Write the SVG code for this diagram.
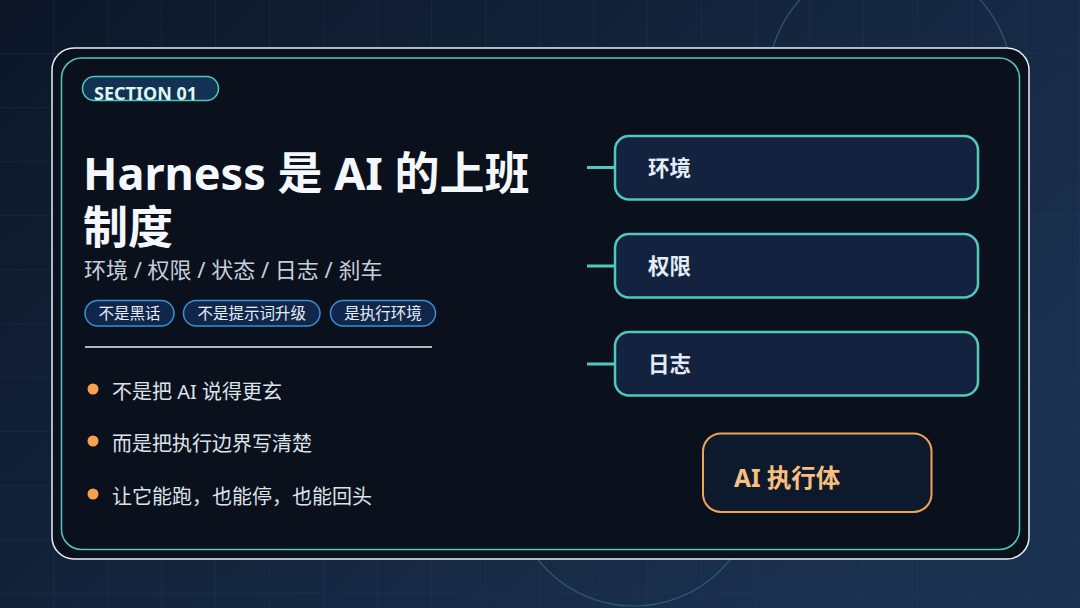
<svg xmlns="http://www.w3.org/2000/svg" width="1080" height="608" viewBox="0 0 1080 608">
<defs>
<linearGradient id="bg" x1="0" y1="0" x2="1" y2="0.6">
<stop offset="0" stop-color="#0c1627"/>
<stop offset="1" stop-color="#1b3150"/>
</linearGradient>
<pattern id="grid" width="54" height="54" patternUnits="userSpaceOnUse">
<path d="M54 0V54M0 54H54" fill="none" stroke="#2a4060" stroke-opacity="0.5" stroke-width="1"/>
</pattern>
<style>
.f{font-family:"Noto Sans","Noto Sans CJK SC",sans-serif}
.node rect{fill:#13233f;stroke:#4fc8bd;stroke-width:2.5}
.node text{fill:#e3ecf7;font-size:21.5px;font-weight:700}
.tag rect{fill:#10264a;stroke:#3d8fd0;stroke-width:1.5}
.tag text{fill:#e6eef8;font-size:15.5px;text-anchor:middle}
.bul circle{fill:#f6a24c}
.bul text{fill:#dde3ea;font-size:20px}
.conn line{stroke:#4fc8bd;stroke-width:3}
</style>
</defs>
<rect width="1080" height="608" fill="url(#bg)"/>
<rect width="1080" height="608" fill="url(#grid)"/>
<circle cx="890" cy="82" r="122" fill="none" stroke="#2c5a70" stroke-width="1.2"/>
<circle cx="634" cy="483" r="123" fill="none" stroke="#2c5a70" stroke-width="1.2"/>
<g id="panel">
<rect x="52" y="48" width="977" height="511" rx="22" fill="#0a111c" stroke="#e8eef6" stroke-width="1.5"/>
<rect x="61.5" y="58" width="958" height="491.5" rx="20" fill="none" stroke="#4fc8bd" stroke-width="1.5"/>
</g>
<g id="section" class="f">
<rect x="82.5" y="76.5" width="136" height="24" rx="12" fill="#133152" stroke="#4fc8bd" stroke-width="1.5"/>
<text x="94" y="100" font-size="18" font-weight="700" fill="#dff7f2">SECTION 01</text>
</g>
<text id="title" class="f" fill="#f4f8fc" font-weight="700" font-size="45"><tspan x="83" y="190">Harness 是 AI 的上班</tspan><tspan x="83" y="244">制度</tspan></text>
<text id="subtitle" class="f" x="84" y="278" font-size="22" fill="#c5cfda">环境 / 权限 / 状态 / 日志 / 刹车</text>
<g id="tags" class="f">
<g class="tag" id="tag1"><rect x="85" y="300.5" width="89" height="25.5" rx="12.75"/><text x="129.5" y="319">不是黑话</text></g>
<g class="tag" id="tag2"><rect x="183.5" y="300.5" width="136.5" height="25.5" rx="12.75"/><text x="251.75" y="319">不是提示词升级</text></g>
<g class="tag" id="tag3"><rect x="330.5" y="300.5" width="105" height="25.5" rx="12.75"/><text x="383" y="319">是执行环境</text></g>
</g>
<line x1="85" y1="347" x2="432" y2="347" stroke="#e8eef6" stroke-width="1.5"/>
<g id="bullets" class="f">
<g class="bul"><circle cx="93" cy="389" r="5.5"/><text x="112" y="399">不是把 AI 说得更玄</text></g>
<g class="bul"><circle cx="93" cy="441" r="5.5"/><text x="112" y="451">而是把执行边界写清楚</text></g>
<g class="bul"><circle cx="93" cy="494" r="5.5"/><text x="112" y="504">让它能跑，也能停，也能回头</text></g>
</g>
<g id="connectors" class="conn">
<line x1="587" y1="167.5" x2="615" y2="167.5"/>
<line x1="587" y1="266" x2="615" y2="266"/>
<line x1="587" y1="364" x2="615" y2="364"/>
</g>
<g id="node-env" class="node f"><rect x="615" y="136" width="363" height="63.5" rx="14"/><text x="648" y="176">环境</text></g>
<g id="node-perm" class="node f"><rect x="615" y="234" width="363" height="63.5" rx="14"/><text x="648" y="274">权限</text></g>
<g id="node-log" class="node f"><rect x="615" y="332" width="363" height="63.5" rx="14"/><text x="648" y="372">日志</text></g>
<g id="node-ai" class="f"><rect x="703" y="433.5" width="228.5" height="78.5" rx="18" fill="#0d1a2e" stroke="#f0a355" stroke-width="2"/><text x="734" y="487" font-size="24.5" font-weight="700" fill="#f8c07e">AI 执行体</text></g>
</svg>
